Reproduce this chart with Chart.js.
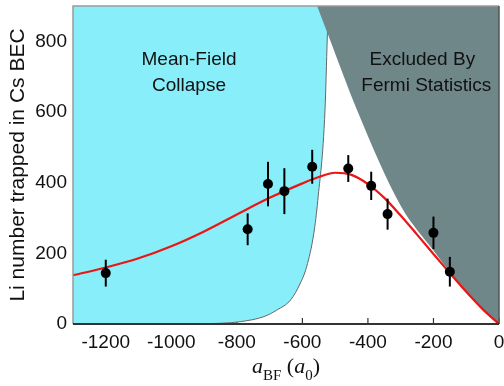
<!DOCTYPE html>
<html>
<head>
<meta charset="utf-8">
<script src="https://cdn.jsdelivr.net/npm/chart.js@4"></script>
<style>
  html, body { margin: 0; padding: 0; background: #fff; }
  #wrap { width: 504px; height: 386px; }
</style>
</head>
<body>
<div id="wrap"><canvas id="myChart"></canvas></div>
<script>
// measured Li numbers with error bars
const dataX = [-1200, -767, -705, -655, -570, -460, -390, -340, -200, -150];
const dataY = [144, 268, 396, 376, 445, 440, 391, 311, 258, 148];
const dataErr = [38, 45, 63, 65, 48, 38, 40, 44, 46, 42];

// model curve (red)
const fitX = [-1300, -1200, -1100, -1000, -900, -800, -700, -600, -550, -500, -450, -400, -350, -300, -250, -200, -150, -100, -50, 0];
const fitY = [138, 160, 186, 220, 262, 310, 357, 398, 416, 428, 422, 396, 357, 307, 253, 198, 144, 91, 42, 0];

// mean-field collapse boundary (cyan region lies above/left)
const collapseX = [-1300, -950, -850, -790, -717, -677, -636, -606, -587, -565, -553, -531, -524, -521];
const collapseY = [0, 0.5, 2, 6.5, 21, 40, 68, 116, 162, 257, 350, 605, 812, 900];

// Fermi statistics boundary (gray region lies above)
const fermiX = [-555, -519, -433, -300, -200, -150, -100, -50, 0];
const fermiY = [900, 812, 605, 335, 208, 147, 93, 43, 0];

const xTicks = [-1200, -1000, -800, -600, -400, -200, 0];
const yTicks = [0, 200, 400, 600, 800];

const zip = (xs, ys) => xs.map((x, i) => ({ x: x, y: ys[i] }));

const extras = {
  id: 'extras',
  beforeDatasetsDraw (chart) {
    const { ctx, chartArea: a, scales } = chart;
    ctx.save();
    ctx.strokeStyle = '#333';
    ctx.lineWidth = 1.2;
    for (const v of xTicks) {
      const px = scales.x.getPixelForValue(v);
      ctx.beginPath();
      ctx.moveTo(px, a.bottom);
      ctx.lineTo(px, a.bottom - 6);
      ctx.stroke();
    }
    for (const v of yTicks) {
      const py = scales.y.getPixelForValue(v);
      ctx.beginPath();
      ctx.moveTo(a.left, py);
      ctx.lineTo(a.left + 6, py);
      ctx.stroke();
    }
    ctx.restore();
  },
  afterDatasetsDraw (chart) {
    const { ctx, chartArea: a, scales } = chart;
    const sx = scales.x, sy = scales.y;
    ctx.save();

    // error bars
    ctx.strokeStyle = '#000';
    ctx.lineWidth = 2;
    dataX.forEach((x, i) => {
      const px = sx.getPixelForValue(x);
      ctx.beginPath();
      ctx.moveTo(px, sy.getPixelForValue(dataY[i] - dataErr[i]));
      ctx.lineTo(px, sy.getPixelForValue(dataY[i] + dataErr[i]));
      ctx.stroke();
    });

    // frame
    ctx.lineWidth = 1.5;
    ctx.strokeStyle = '#9a9a9a';
    ctx.beginPath();
    ctx.moveTo(a.left, a.bottom);
    ctx.lineTo(a.left, a.top);
    ctx.lineTo(a.right, a.top);
    ctx.stroke();
    ctx.strokeStyle = '#555';
    ctx.beginPath();
    ctx.moveTo(a.right, a.top);
    ctx.lineTo(a.right, a.bottom);
    ctx.stroke();
    ctx.strokeStyle = '#333';
    ctx.lineWidth = 2;
    ctx.beginPath();
    ctx.moveTo(a.left, a.bottom);
    ctx.lineTo(a.right, a.bottom);
    ctx.stroke();

    // region labels
    ctx.fillStyle = '#111';
    ctx.font = '19px "Liberation Sans", Arial, sans-serif';
    ctx.textAlign = 'center';
    ctx.textBaseline = 'alphabetic';
    ctx.fillText('Mean-Field', sx.getPixelForValue(-946), sy.getPixelForValue(732));
    ctx.fillText('Collapse', sx.getPixelForValue(-946), sy.getPixelForValue(659));
    ctx.fillText('Excluded By', sx.getPixelForValue(-234), sy.getPixelForValue(732));
    ctx.fillText('Fermi Statistics', sx.getPixelForValue(-222), sy.getPixelForValue(659));

    // x axis title: a_BF (a_0)
    const big = 'italic 22px "Liberation Serif", serif';
    const up = '22px "Liberation Serif", serif';
    const sub = '15px "Liberation Serif", serif';
    const parts = [
      [big, 'a', 0], [sub, 'BF', 7], [up, ' (', 0],
      [big, 'a', 0], [sub, '0', 7], [up, ')', 0]
    ];
    let total = 0;
    for (const p of parts) { ctx.font = p[0]; total += ctx.measureText(p[1]).width; }
    let cx = (a.left + a.right) / 2 - total / 2;
    const base = 373;
    ctx.textAlign = 'left';
    for (const p of parts) {
      ctx.font = p[0];
      ctx.fillText(p[1], cx, base + p[2]);
      cx += ctx.measureText(p[1]).width;
    }
    ctx.restore();
  }
};

new Chart(document.getElementById('myChart'), {
  type: 'scatter',
  data: {
    datasets: [
      {
        label: 'data',
        data: zip(dataX, dataY),
        pointRadius: 5,
        pointHoverRadius: 5,
        pointBorderWidth: 0,
        pointBackgroundColor: '#000',
        pointBorderColor: '#000',
        showLine: false
      },
      {
        label: 'fit',
        data: zip(fitX, fitY),
        showLine: true,
        borderColor: 'rgb(238, 20, 20)',
        borderWidth: 2.2,
        pointRadius: 0,
        cubicInterpolationMode: 'monotone',
        fill: false
      },
      {
        label: 'Fermi',
        data: zip(fermiX, fermiY),
        showLine: true,
        borderWidth: 0,
        borderColor: 'rgba(0,0,0,0)',
        backgroundColor: '#6f8789',
        pointRadius: 0,
        cubicInterpolationMode: 'monotone',
        fill: 'end'
      },
      {
        label: 'collapse',
        data: zip(collapseX, collapseY),
        showLine: true,
        borderWidth: 1,
        borderColor: '#666',
        backgroundColor: '#88eef9',
        pointRadius: 0,
        cubicInterpolationMode: 'monotone',
        fill: 'end'
      }
    ]
  },
  options: {
    responsive: true,
    maintainAspectRatio: false,
    animation: false,
    events: [],
    layout: { padding: { top: 6, right: 5, left: 0, bottom: 0 } },
    plugins: { legend: { display: false }, tooltip: { enabled: false } },
    scales: {
      x: {
        type: 'linear',
        min: -1300,
        max: 0,
        afterBuildTicks: scale => { scale.ticks = xTicks.map(v => ({ value: v })); },
        afterFit: scale => {
          scale.height = 62;
          scale.paddingLeft = 0;
          scale.paddingRight = 0;
        },
        grid: { display: false, drawTicks: false },
        border: { display: false },
        ticks: {
          padding: 7,
          color: '#111',
          font: { family: '"Liberation Sans", Arial, sans-serif', size: 19 },
          maxRotation: 0,
          callback: v => String(v)
        }
      },
      y: {
        min: 0,
        max: 900,
        afterBuildTicks: scale => { scale.ticks = yTicks.map(v => ({ value: v })); },
        afterFit: scale => {
          scale.width = 73;
          scale.paddingTop = 0;
          scale.paddingBottom = 0;
        },
        grid: { display: false, drawTicks: false },
        border: { display: false },
        ticks: {
          padding: 6,
          color: '#111',
          font: { family: '"Liberation Sans", Arial, sans-serif', size: 19 },
          callback: v => String(v)
        },
        title: {
          display: true,
          text: 'Li number trapped in Cs BEC',
          color: '#111',
          font: { family: '"Liberation Sans", Arial, sans-serif', size: 21 },
          padding: { top: 6, bottom: 0 }
        }
      }
    }
  },
  plugins: [extras]
});
</script>
</body>
</html>
